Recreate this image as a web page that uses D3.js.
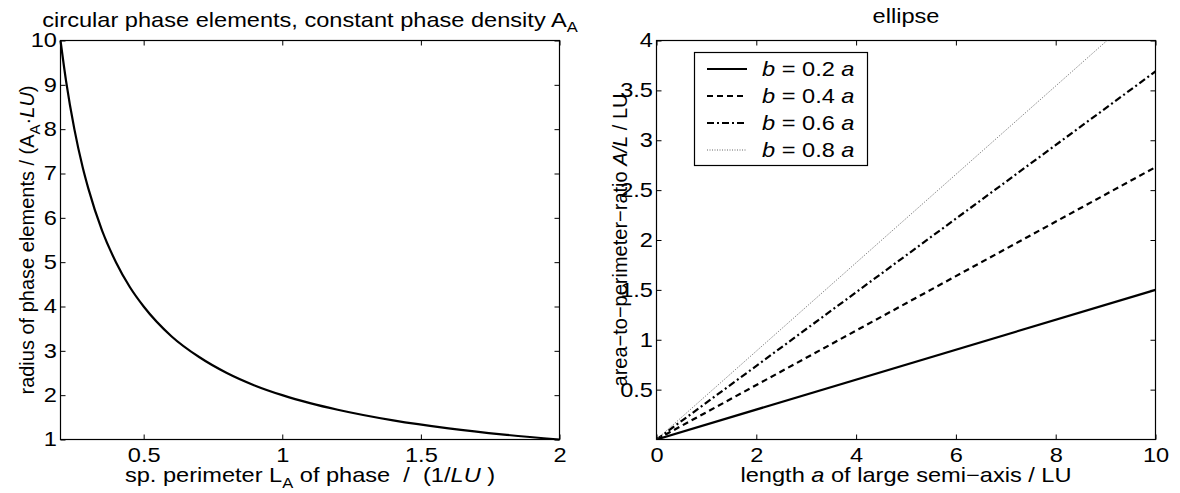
<!DOCTYPE html>
<html lang="en">
<head>
  <meta charset="UTF-8">
  <title>phase elements and ellipse</title>
  <script src="https://d3js.org/d3.v7.min.js"></script>
  <style>
    body { margin: 0; background: #fff; }
    svg text { font-family: "Liberation Sans", Arial, sans-serif; font-size: 20px; fill: #000; }
  </style>
</head>
<body>
  <div id="chart"></div>
  <script>
    // left plot: radius of circular phase elements vs specific perimeter
    const perimeter = [0.2, 0.22, 0.25, 0.28, 0.3, 0.35, 0.4, 0.45, 0.5, 0.6, 0.7, 0.8, 0.9, 1.0, 1.1, 1.2, 1.4, 1.6, 1.8, 2.0];
    const radius = [10, 9.09, 8, 7.14, 6.67, 5.71, 5, 4.44, 4, 3.33, 2.86, 2.5, 2.22, 2, 1.82, 1.67, 1.43, 1.25, 1.11, 1];
    const leftXTicks = [0.5, 1, 1.5, 2];
    const leftYTicks = [1, 2, 3, 4, 5, 6, 7, 8, 9, 10];

    // right plot: area-to-perimeter ratio of ellipses, straight lines through 0
    const semiAxis = [0, 10];
    const ratioB02 = [0, 1.50];
    const ratioB04 = [0, 2.73];
    const ratioB06 = [0, 3.69];
    const ratioB08 = [0, 4.43];
    const legendB = ["0.2", "0.4", "0.6", "0.8"];
    const rightXTicks = [0, 2, 4, 6, 8, 10];
    const rightYTicks = [0.5, 1, 1.5, 2, 2.5, 3, 3.5, 4];

    const width = 1180, height = 493;
    const sx = 1.18; // horizontal text in the original runs a bit wide
    const svg = d3.select("#chart").append("svg")
      .attr("width", width)
      .attr("height", height);

    const plotTop = 40.5, plotBottom = 439.5;

    function hText(x, y, anchor) {
      return svg.append("text")
        .attr("transform", `translate(${x},${y}) scale(${sx},1)`)
        .attr("text-anchor", anchor || "start");
    }

    function vText(x, y) {
      return svg.append("text")
        .attr("transform", `translate(${x},${y}) rotate(-90)`)
        .attr("font-size", 21)
        .attr("text-anchor", "middle");
    }

    function frame(x, y, xTicks, yTicks) {
      const g = svg.append("g");
      const [xl, xr] = x.range();
      g.append("g").attr("transform", `translate(0,${plotBottom})`)
        .call(d3.axisBottom(x).tickValues(xTicks).tickFormat(d3.format("")).tickSizeInner(-5).tickSizeOuter(0).tickPadding(8));
      g.append("g").attr("transform", `translate(0,${plotTop})`)
        .call(d3.axisTop(x).tickValues(xTicks).tickFormat("").tickSizeInner(-5).tickSizeOuter(0));
      g.append("g").attr("transform", `translate(${xl},0)`)
        .call(d3.axisLeft(y).tickValues(yTicks).tickFormat(d3.format("")).tickSizeInner(-5).tickSizeOuter(0).tickPadding(3));
      g.append("g").attr("transform", `translate(${xr},0)`)
        .call(d3.axisRight(y).tickValues(yTicks).tickFormat("").tickSizeInner(-5).tickSizeOuter(0));
      g.selectAll(".domain").remove();
      g.selectAll(".tick line").attr("stroke", "#000");
      g.selectAll(".tick text")
        .attr("font-size", 20).attr("font-family", null)
        .attr("transform", `scale(${sx},1)`);
      g.append("rect")
        .attr("x", xl).attr("y", plotTop)
        .attr("width", xr - xl).attr("height", plotBottom - plotTop)
        .attr("fill", "none").attr("stroke", "#000").attr("stroke-width", 1.2);
      return g;
    }

    // ---------- left plot ----------
    const xL = d3.scaleLinear().domain([0.2, 2]).range([60.5, 559.5]);
    const yL = d3.scaleLinear().domain([1, 10]).range([plotBottom, plotTop]);
    frame(xL, yL, leftXTicks, leftYTicks);

    const curve = perimeter.map((p, i) => [p, radius[i]]);
    svg.append("path")
      .datum(curve)
      .attr("fill", "none")
      .attr("stroke", "#000")
      .attr("stroke-width", 2.2)
      .attr("d", d3.line().x(d => xL(d[0])).y(d => yL(d[1])).curve(d3.curveMonotoneX));

    const tL = hText(310, 27, "middle");
    tL.append("tspan").text("circular phase elements, constant phase density A");
    tL.append("tspan").attr("font-size", 14).attr("dy", 5).text("A");

    const xlabL = hText(310, 482, "middle");
    xlabL.append("tspan").text("sp. perimeter L");
    xlabL.append("tspan").attr("font-size", 14).attr("dy", 6).text("A");
    xlabL.append("tspan").attr("dy", -6).text(" of phase \u00a0/ \u00a0(1/");
    xlabL.append("tspan").attr("font-style", "italic").text("LU");
    xlabL.append("tspan").text(" )");

    const ylabL = vText(34, (plotTop + plotBottom) / 2);
    ylabL.append("tspan").text("radius of phase elements / (A");
    ylabL.append("tspan").attr("font-size", 15).attr("dy", 6).text("A");
    ylabL.append("tspan").attr("dy", -6).text("\u00b7");
    ylabL.append("tspan").attr("font-style", "italic").text("LU");
    ylabL.append("tspan").text(")");

    // ---------- right plot ----------
    const xR = d3.scaleLinear().domain([0, 10]).range([656.5, 1155.5]);
    const yR = d3.scaleLinear().domain([0, 4]).range([plotBottom, plotTop]);
    frame(xR, yR, rightXTicks, rightYTicks);

    svg.append("clipPath").attr("id", "clipR")
      .append("rect")
      .attr("x", xR(0)).attr("y", plotTop)
      .attr("width", xR(10) - xR(0)).attr("height", plotBottom - plotTop);

    const series = [
      { b: legendB[0], values: ratioB02, dash: null, width: 2.2, color: "#000" },
      { b: legendB[1], values: ratioB04, dash: "6,4", width: 2.2, color: "#000" },
      { b: legendB[2], values: ratioB06, dash: "7,3,2,3", width: 2.2, color: "#000" },
      { b: legendB[3], values: ratioB08, dash: "1,1.5", width: 1, color: "#666" }
    ];

    const lineR = d3.line().x(d => xR(d[0])).y(d => yR(d[1]));
    svg.append("g").attr("clip-path", "url(#clipR)")
      .selectAll("path")
      .data(series)
      .enter()
      .append("path")
      .attr("fill", "none")
      .attr("stroke", d => d.color)
      .attr("stroke-width", d => d.width)
      .attr("stroke-dasharray", d => d.dash)
      .attr("d", d => lineR(semiAxis.map((a, i) => [a, d.values[i]])));

    // legend
    svg.append("rect")
      .attr("x", 694.5).attr("y", 52.5)
      .attr("width", 173).attr("height", 113)
      .attr("fill", "#fff").attr("stroke", "#000").attr("stroke-width", 1.2);
    series.forEach((s, i) => {
      const yy = 69 + i * 27;
      svg.append("line")
        .attr("x1", 707).attr("x2", 747).attr("y1", yy).attr("y2", yy)
        .attr("stroke", s.color).attr("stroke-width", s.width)
        .attr("stroke-dasharray", s.dash);
      const t = hText(762, yy + 7);
      t.append("tspan").attr("font-style", "italic").text("b");
      t.append("tspan").text(" = " + s.b + " ");
      t.append("tspan").attr("font-style", "italic").text("a");
    });

    hText(906, 23, "middle").text("ellipse");

    const xlabR = hText(906, 482, "middle");
    xlabR.append("tspan").text("length ");
    xlabR.append("tspan").attr("font-style", "italic").text("a");
    xlabR.append("tspan").text(" of large semi\u2212axis / LU");

    const ylabR = vText(627, (plotTop + plotBottom) / 2);
    ylabR.append("tspan").text("area\u2212to\u2212perimeter\u2212ratio ");
    ylabR.append("tspan").attr("font-style", "italic").text("A/L");
    ylabR.append("tspan").text(" / LU");
  </script>
</body>
</html>
